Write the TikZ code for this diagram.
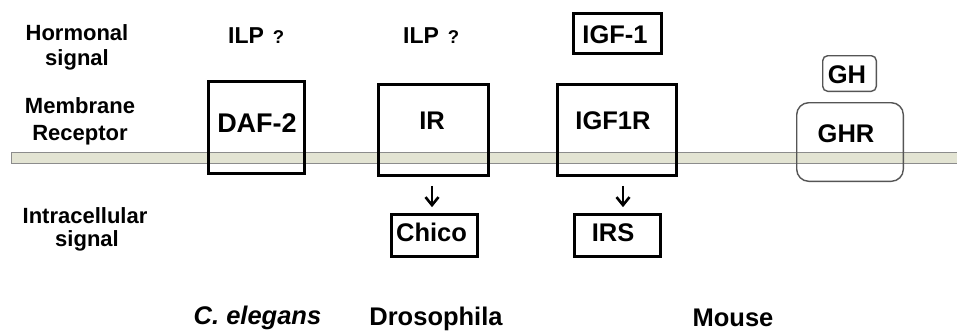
\documentclass[tikz,border=0pt]{standalone}
\usepackage{fontspec}
\setmainfont{Liberation Sans}
\usetikzlibrary{arrows.meta}
\definecolor{membfill}{HTML}{E3E4D3}
\definecolor{membline}{HTML}{8C8C8C}
\definecolor{ghline}{HTML}{555555}
\begin{document}
\begin{tikzpicture}[x=1pt,y=-1pt,
  box/.style={draw=black, line width=2.7pt, inner sep=0pt},
  rbox/.style={draw=ghline, line width=1.4pt, inner sep=0pt},
  lbl/.style={font=\bfseries\fontsize{22}{26}\selectfont, anchor=base, inner sep=0pt},
  pname/.style={font=\bfseries\fontsize{25.5}{30}\selectfont, anchor=base, inner sep=0pt},
  ilp/.style={font=\bfseries\fontsize{23}{28}\selectfont, anchor=base west, inner sep=0pt},
  spec/.style={font=\bfseries\fontsize{25.5}{30}\selectfont, anchor=base, inner sep=0pt},
  arr/.style={-{Straight Barb[length=8pt,width=13pt,line width=2.6pt]}, line width=2.4pt}]
\useasboundingbox (0,0) rectangle (957,330);
\fill[white] (0,0) rectangle (957,330);
% membrane
\draw[membline, fill=membfill, line width=0.8pt] (11.5,152.5) rectangle (965,163);
% left labels
\node[lbl] (h1) at (77,40) {Hormonal};
\node[lbl] (h2) at (77,65) {signal};
\node[lbl] (m1) at (80,113) {Membrane};
\node[lbl] (m2) at (80,140) {Receptor};
\node[lbl] (i1) at (85,223) {Intracellular};
\node[lbl] (i2) at (87,246) {signal};
% hormonal signals
\node[ilp] (ilp1) at (228,43) {ILP\kern9pt{\fontsize{18.5}{20}\selectfont ?}};
\node[ilp] (ilp2) at (403,43) {ILP\kern9pt{\fontsize{18.5}{20}\selectfont ?}};
\node[box, minimum width=88pt, minimum height=40pt] (igf1) at (617.5,33.5) {};
\node[pname] (igf1t) at (615,43) {IGF-1};
\node[rbox, rounded corners=5pt, minimum width=53.6pt, minimum height=35.6pt] (gh) at (849.5,73.5) {};
\node[pname] (ght) at (847,83) {GH};
% receptors
\node[box, minimum width=96pt, minimum height=92pt] (daf) at (256.5,127.5) {};
\node[pname, font=\bfseries\fontsize{27}{30}\selectfont] (daft) at (257,132) {DAF-2};
\node[box, minimum width=110pt, minimum height=91pt] (ir) at (433.5,130) {};
\node[pname] (irt) at (432,129) {IR};
\node[box, minimum width=119pt, minimum height=91pt] (igfr) at (617,130) {};
\node[pname] (igfrt) at (613,129) {IGF1R};
\node[rbox, rounded corners=12pt, minimum width=106.6pt, minimum height=78.6pt] (ghr) at (850,142) {};
\node[pname] (ghrt) at (846,142) {GHR};
% intracellular
\node[box, minimum width=86pt, minimum height=42pt] (chico) at (434.5,235.5) {};
\node[pname] (chicot) at (431.5,241) {Chico};
\node[box, minimum width=86pt, minimum height=42pt] (irs) at (617.5,235.5) {};
\node[pname] (irst) at (613,241) {IRS};
% arrows
\draw[arr] ([xshift=-1.5pt,yshift=-9pt]ir.south) -- ([xshift=-2.5pt,yshift=6pt]chico.north);
\draw[arr] ([xshift=6pt,yshift=-9pt]igfr.south) -- ([xshift=5.5pt,yshift=6pt]irs.north);
% species
\node[spec] (ce) at (257.5,324) {\itshape C. elegans};
\node[spec] (dro) at (436,325) {Drosophila};
\node[spec] (mou) at (733,326) {Mouse};
\end{tikzpicture}
\end{document}
